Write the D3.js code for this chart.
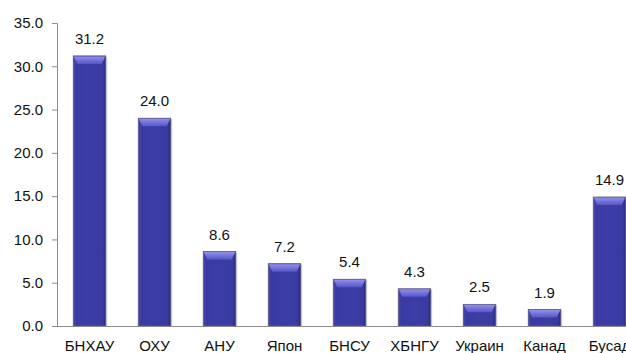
<!DOCTYPE html>
<html><head><meta charset="utf-8">
<script src="https://cdn.jsdelivr.net/npm/d3@7"></script>
<style>body{margin:0;background:#fff}svg{display:block}</style>
</head><body><svg id="c" width="626" height="353"></svg>
<script>
const categories = ["БНХАУ","ОХУ","АНУ","Япон","БНСУ","ХБНГУ","Украин","Канад","Бусад"];
const values = [31.2,24.0,8.6,7.2,5.4,4.3,2.5,1.9,14.9];
const yTicks = [0,5,10,15,20,25,30,35];

const svg = d3.select("#c");
const font = "Arial, 'Liberation Sans', sans-serif";
const x = d3.scaleBand().domain(categories).range([57, 642]).paddingInner(0.5).paddingOuter(0.25);
const y = d3.scaleLinear().domain([0,35]).range([326,23]);

const defs = svg.append("defs");
const g1 = defs.append("linearGradient").attr("id","bar").attr("x1","0").attr("x2","1").attr("y1","0").attr("y2","0");
[[0,"#4848b0"],[0.1,"#3a3aa2"],[0.5,"#3d3da8"],[0.9,"#3a3aa0"],[1,"#2a2a80"]].forEach(s=>g1.append("stop").attr("offset",s[0]).attr("stop-color",s[1]));
const g2 = defs.append("linearGradient").attr("id","cap").attr("x1","0").attr("x2","0").attr("y1","0").attr("y2","1");
[[0,"#9090ec"],[1,"#5656c8"]].forEach(s=>g2.append("stop").attr("offset",s[0]).attr("stop-color",s[1]));

// y axis
const ya = svg.append("g").attr("transform","translate(57,0)")
  .call(d3.axisLeft(y).tickValues(yTicks).tickFormat(d3.format(".1f")).tickSize(5).tickPadding(9));
ya.select(".domain").attr("stroke","#8c8c8c");
ya.selectAll(".tick line").attr("stroke","#8c8c8c");
ya.selectAll(".tick text").attr("font-family",font).attr("font-size","15px").attr("fill","#111");

// bars
const w = x.bandwidth();
const bars = svg.append("g");
categories.forEach((c,i)=>{
  const x0 = x(c), yt = y(values[i]), h = y(0)-yt;
  bars.append("rect").attr("x",x0+1.5).attr("y",yt+1).attr("width",w).attr("height",h-1).attr("fill","#b8b8c8").attr("opacity",0.6);
  bars.append("rect").attr("x",x0).attr("y",yt).attr("width",w).attr("height",h).attr("fill","url(#bar)").attr("stroke","#5a5a7a").attr("stroke-width",0.8);
  const ch = Math.min(8, h*0.5);
  bars.append("path").attr("d",`M${x0+0.5},${yt+0.5}L${x0+w-0.5},${yt+0.5}L${x0+w-4},${yt+ch}L${x0+4},${yt+ch}Z`).attr("fill","url(#cap)");
  svg.append("text").attr("x",x0+w/2).attr("y",yt-12).attr("text-anchor","middle")
    .attr("font-family",font).attr("font-size","15px").attr("fill","#111").text(values[i].toFixed(1));
});

// x axis
const xa = svg.append("g").attr("transform","translate(0,326)")
  .call(d3.axisBottom(x).tickSize(0).tickPadding(14));
xa.select(".domain").attr("stroke","#8c8c8c").attr("d","M57,0.5H626");
xa.selectAll(".tick text").attr("font-family",font).attr("font-size","15px").attr("fill","#111");
</script></body></html>
